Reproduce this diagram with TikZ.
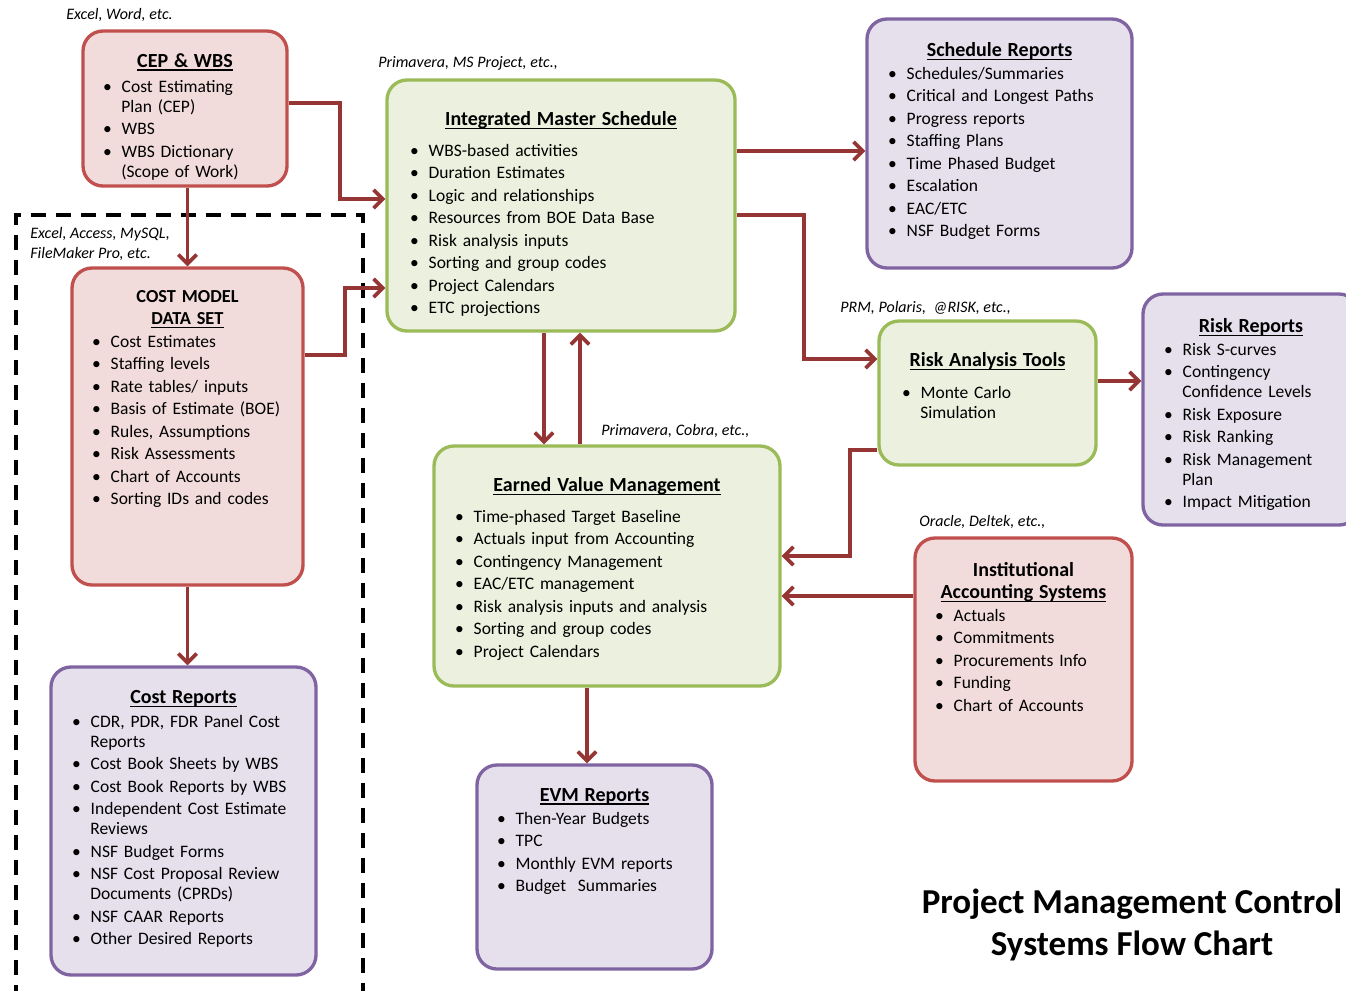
\documentclass[tikz,border=0pt]{standalone}
\usepackage{fontspec}
\setmainfont{Carlito}
\usepackage{enumitem}
\usetikzlibrary{arrows.meta, calc, positioning, fit}

\definecolor{redfill}{RGB}{242,220,219}
\definecolor{redline}{RGB}{192,80,77}
\definecolor{greenfill}{RGB}{235,241,222}
\definecolor{greenline}{RGB}{155,187,89}
\definecolor{purplefill}{RGB}{229,224,236}
\definecolor{purpleline}{RGB}{128,100,162}
\definecolor{arrowred}{RGB}{150,54,52}

\newcommand{\uln}[1]{\leavevmode\setbox0\hbox{#1}\rlap{\vrule height -1.3pt depth 2.2pt width \wd0}\box0}
\newcommand{\boxhead}[1]{\centerline{\fontsize{12}{12}\selectfont\bfseries\uln{#1}}}
\newlist{bul}{itemize}{1}
\setlist[bul]{label=\textbullet, leftmargin=11pt, rightmargin=-20pt, labelsep=6pt, labelwidth=5pt, align=left, itemsep=1.5pt, parsep=0pt, topsep=1.8pt, partopsep=0pt}

\tikzset{
  redbox/.style={draw=redline, fill=redfill, line width=2pt, rounded corners=12pt, inner sep=0pt},
  greenbox/.style={draw=greenline, fill=greenfill, line width=2pt, rounded corners=12pt, inner sep=0pt},
  purplebox/.style={draw=purpleline, fill=purplefill, line width=2pt, rounded corners=12pt, inner sep=0pt},
  boxtxt/.style={anchor=north, inner sep=0pt, align=left, font=\fontsize{10.5}{12}\selectfont},
  tool/.style={anchor=west, inner sep=0pt, align=left, font=\fontsize{9.6}{12}\selectfont\itshape},
  arr/.style={draw=arrowred, line width=2.2pt, -{Straight Barb[length=5.5pt,width=11pt]}},
}

\begin{document}
\begin{tikzpicture}[x=0.6pt, y=-0.6pt]
\useasboundingbox (0,0) rectangle (1346,990);
\clip (0,0) rectangle (1346,990);

% Tool-set frame
\draw[line width=2.4pt, dash pattern=on 9pt off 6pt] (16,1000) -- (16,215) -- (363,215) -- (363,1000);

% Boxes
\node[redbox, fit={(83,31) (287,186)}] (cep) {};
\node[greenbox, fit={(387,80) (735,331)}] (ims) {};
\node[purplebox, fit={(867,19) (1132,268)}] (sched) {};
\node[greenbox, fit={(879,321) (1096,465)}] (risk) {};
\node[purplebox, fit={(1143,294) (1359,525)}] (riskrep) {};
\node[redbox, fit={(72,268) (303,585)}] (cmodel) {};
\node[purplebox, fit={(51,667) (316,975)}] (creports) {};
\node[greenbox, fit={(434,446) (780,686)}] (evm) {};
\node[purplebox, fit={(477,765) (712,969)}] (evmrep) {};
\node[redbox, fit={(915,538) (1132,781)}] (inst) {};

% Box contents
\node[boxtxt, text width=98.4pt] (ceptxt) at (185,53) {\boxhead{CEP \& WBS}
  \begin{bul}[topsep=3pt]
  \item Cost Estimating\\Plan (CEP)
  \item WBS
  \item WBS Dictionary\\(Scope of Work)
  \end{bul}};
\node[boxtxt, text width=181.2pt] (imstxt) at (561,111) {\boxhead{Integrated Master Schedule}
  \begin{bul}[topsep=6.6pt]
  \item WBS-based activities
  \item Duration Estimates
  \item Logic and relationships
  \item Resources from BOE Data Base
  \item Risk analysis inputs
  \item Sorting and group codes
  \item Project Calendars
  \item ETC projections
  \end{bul}};
\node[boxtxt, text width=133.8pt] (schedtxt) at (999.5,42) {\boxhead{Schedule Reports}
  \begin{bul}
  \item Schedules/Summaries
  \item Critical and Longest Paths
  \item Progress reports
  \item Staffing Plans
  \item Time Phased Budget
  \item Escalation
  \item EAC/ETC
  \item NSF Budget Forms
  \end{bul}};
\node[boxtxt, text width=102.6pt] (risktxt) at (987.5,352) {\boxhead{Risk Analysis Tools}
  \begin{bul}[topsep=7.2pt]
  \item Monte Carlo\\Simulation
  \end{bul}};
\node[boxtxt, text width=104.4pt] (riskreptxt) at (1251,318) {\boxhead{Risk Reports}
  \begin{bul}
  \item Risk S-curves
  \item Contingency\\Confidence Levels
  \item Risk Exposure
  \item Risk Ranking
  \item Risk Management\\Plan
  \item Impact Mitigation
  \end{bul}};
\node[boxtxt, text width=114.6pt] (cmodeltxt) at (187.5,290) {\centerline{\fontsize{11}{12}\selectfont\bfseries COST MODEL}\vskip1.2pt
  \centerline{\fontsize{11}{12}\selectfont\bfseries\uln{DATA SET}}
  \begin{bul}
  \item Cost Estimates
  \item Staffing levels
  \item Rate tables/ inputs
  \item Basis of Estimate (BOE)
  \item Rules, Assumptions
  \item Risk Assessments
  \item Chart of Accounts
  \item Sorting IDs and codes
  \end{bul}};
\node[boxtxt, text width=133.8pt] (creportstxt) at (183.5,690) {\boxhead{Cost Reports}
  \begin{bul}[topsep=2.4pt]
  \item CDR, PDR, FDR Panel Cost\\Reports
  \item Cost Book Sheets by WBS
  \item Cost Book Reports by WBS
  \item Independent Cost Estimate\\Reviews
  \item NSF Budget Forms
  \item NSF Cost Proposal Review\\Documents (CPRDs)
  \item NSF CAAR Reports
  \item Other Desired Reports
  \end{bul}};
\node[boxtxt, text width=182.4pt] (evmtxt) at (607,477) {\boxhead{Earned Value Management}
  \begin{bul}[topsep=6.6pt]
  \item Time-phased Target Baseline
  \item Actuals input from Accounting
  \item Contingency Management
  \item EAC/ETC management
  \item Risk analysis inputs and analysis
  \item Sorting and group codes
  \item Project Calendars
  \end{bul}};
\node[boxtxt, text width=117pt] (evmreptxt) at (594.5,788) {\boxhead{EVM Reports}
  \begin{bul}
  \item Then-Year Budgets
  \item TPC
  \item Monthly EVM reports
  \item Budget\ \ Summaries
  \end{bul}};
\node[boxtxt, text width=106.2pt] (insttxt) at (1023.5,562) {\centerline{\fontsize{12}{12}\selectfont\bfseries Institutional}\vskip1.2pt
  \boxhead{Accounting Systems}
  \begin{bul}
  \item Actuals
  \item Commitments
  \item Procurements Info
  \item Funding
  \item Chart of Accounts
  \end{bul}};

% Software used
\node[tool] (toolcep) at (66,15) {Excel, Word, etc.};
\node[tool] (toolims) at (378,63) {Primavera, MS Project, etc.,};
\node[tool] (toolcmodel) at (30,244) {Excel, Access, MySQL,\\FileMaker Pro, etc.};
\node[tool] (toolevm) at (601,431) {Primavera, Cobra, etc.,};
\node[tool] (toolrisk) at (840,308) {PRM, Polaris,\ \ @RISK, etc.,};
\node[tool] (toolinst) at (919,522) {Oracle, Deltek, etc.,};

% Flows
\draw[arr] (cep.east |- 0,103) -- (340,103) |- (ims.west |- 0,199);
\draw[arr] (cep.south -| cmodel.north) -- (cmodel.north);
\draw[arr] (cmodel.east |- 0,355) -- (345,355) |- (ims.west |- 0,288);
\draw[arr] (cmodel.south) -- (cmodel.south |- creports.north);
\draw[arr] (ims.east |- 0,151) -- (sched.west |- 0,151);
\draw[arr] (ims.east |- 0,215) -- (804,215) |- (risk.west |- 0,359);
\draw[arr] (ims.south -| 544,0) -- (evm.north -| 544,0);
\draw[arr] (evm.north -| 580,0) -- (ims.south -| 580,0);
\draw[arr] (risk.east |- 0,381) -- (riskrep.west |- 0,381);
\draw[arr] (risk.west |- 0,450) -- (850,450) |- (evm.east |- 0,556);
\draw[arr] (inst.west |- 0,596) -- (evm.east |- 0,596);
\draw[arr] (evm.south -| 587,0) -- (evmrep.north -| 587,0);

% Title
\node[font=\fontsize{21}{25.2}\selectfont\bfseries, align=center] (title) at (1132,925) {Project Management Control\\Systems Flow Chart};
\end{tikzpicture}
\end{document}
